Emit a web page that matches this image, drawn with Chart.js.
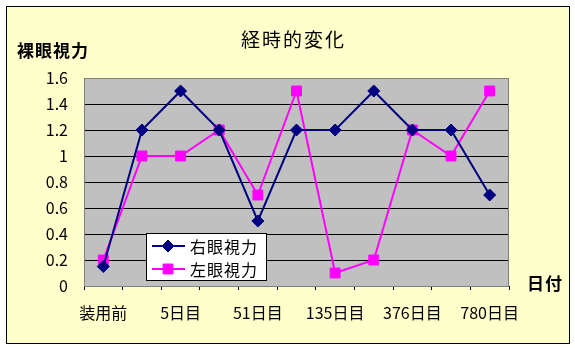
<!doctype html>
<html>
<head>
<meta charset="utf-8">
<title>経時的変化</title>
<script src="https://cdn.jsdelivr.net/npm/chart.js@4"></script>
<style>
	html, body { margin: 0; padding: 0; background: #fff; }
	#wrap { width: 575px; height: 349px; }
</style>
</head>
<body>
<div id="wrap"><canvas id="chart"></canvas></div>
<script>
	// categories (only every other label is printed on the axis)
	var categories = ['装用前', '', '5日目', '', '51日目', '', '135日目', '', '376日目', '', '780日目'];
	var rightEye = [0.15, 1.2, 1.5, 1.2, 0.5, 1.2, 1.2, 1.5, 1.2, 1.2, 0.7];
	var leftEye = [0.2, 1.0, 1.0, 1.2, 0.7, 1.5, 0.1, 0.2, 1.2, 1.0, 1.5];
	var seriesNames = ['右眼視力', '左眼視力'];
	var chartTitle = '経時的変化';
	var yTitle = '裸眼視力';
	var xTitle = '日付';

	var FONT = '"Noto Sans CJK JP", sans-serif';

	// frame, plot background, titles and the in-plot legend
	var decor = {
		id: 'decor',
		beforeDraw: function(chart) {
			var ctx = chart.ctx, a = chart.chartArea;
			ctx.save();
			ctx.fillStyle = '#fff';
			ctx.fillRect(0, 0, chart.width, chart.height);
			ctx.fillStyle = '#FFFFCC';
			ctx.fillRect(6, 6, 563, 337);
			ctx.strokeStyle = '#000';
			ctx.lineWidth = 1;
			ctx.strokeRect(6.5, 6.5, 563, 337);
			ctx.fillStyle = '#C0C0C0';
			ctx.fillRect(a.left, a.top, a.right - a.left, a.bottom - a.top);
			ctx.restore();
		},
		afterDatasetsDraw: function(chart) {
			var ctx = chart.ctx, a = chart.chartArea;
			ctx.save();
			ctx.strokeStyle = '#808080';
			ctx.lineWidth = 1;
			ctx.strokeRect(a.left + 0.5, a.top + 0.5, a.right - a.left - 1, a.bottom - a.top);

			ctx.fillStyle = '#000';
			ctx.textBaseline = 'middle';
			ctx.textAlign = 'left';
			ctx.letterSpacing = '2px';
			ctx.font = '19px ' + FONT;
			ctx.fillText(chartTitle, 241, 40);
			ctx.letterSpacing = '1px';
			ctx.font = 'bold 17px ' + FONT;
			ctx.fillText(yTitle, 17, 51);
			ctx.fillText(xTitle, 527, 284);

			// legend box
			var lx = 146, ly = 233, lw = 120, lh = 47;
			ctx.fillStyle = '#fff';
			ctx.fillRect(lx, ly, lw, lh);
			ctx.strokeStyle = '#000';
			ctx.strokeRect(lx + 0.5, ly + 0.5, lw, lh);
			chart.data.datasets.forEach(function(ds, i) {
				var y = ly + 13 + i * 23;
				ctx.strokeStyle = ds.borderColor;
				ctx.fillStyle = ds.backgroundColor;
				ctx.lineWidth = 2;
				ctx.beginPath();
				ctx.moveTo(lx + 6, y);
				ctx.lineTo(lx + 39, y);
				ctx.stroke();
				ctx.lineWidth = 1;
				Chart.helpers.drawPoint(ctx, {
					pointStyle: ds.pointStyle,
					radius: ds.pointRadius,
					borderWidth: 1,
					rotation: 0
				}, lx + 22, y);
				ctx.fillStyle = '#000';
				ctx.letterSpacing = '1px';
				ctx.font = '16px ' + FONT;
				ctx.fillText(ds.label, lx + 44, y + 1);
			});
			ctx.restore();
		}
	};

	new Chart(document.getElementById('chart'), {
		type: 'line',
		data: {
			labels: categories,
			datasets: [{
				label: seriesNames[0],
				data: rightEye,
				borderColor: '#000080',
				backgroundColor: '#000080',
				pointStyle: 'rectRot',
				pointRadius: 6,
				pointBorderWidth: 1,
				borderWidth: 2,
				tension: 0
			}, {
				label: seriesNames[1],
				data: leftEye,
				borderColor: '#FF00FF',
				backgroundColor: '#FF00FF',
				pointStyle: 'rect',
				pointRadius: 7,
				pointBorderWidth: 1,
				borderWidth: 2,
				tension: 0
			}]
		},
		options: {
			responsive: true,
			maintainAspectRatio: false,
			animation: false,
			layout: { padding: { left: 0, top: 78, right: 66, bottom: 0 } },
			plugins: {
				legend: { display: false },
				title: { display: false },
				tooltip: { enabled: false }
			},
			scales: {
				x: {
					offset: true,
					grid: {
						offset: true,
						drawOnChartArea: false,
						drawTicks: true,
						tickLength: 4,
						color: '#000'
					},
					border: { display: false },
					ticks: {
						autoSkip: false,
						maxRotation: 0,
						padding: 13,
						color: '#000',
						font: { family: FONT, size: 16 }
					},
					afterFit: function(scale) { scale.height = 349 - 286; }
				},
				y: {
					min: 0,
					max: 1.6,
					grid: { color: '#000', drawTicks: false },
					border: { display: false },
					ticks: {
						stepSize: 0.2,
						padding: 16,
						color: '#000',
						font: { family: FONT, size: 16 },
						callback: function(v) { return Math.round(v * 10) / 10; }
					},
					afterFit: function(scale) { scale.width = 84; }
				}
			}
		},
		plugins: [decor]
	});
</script>
</body>
</html>
